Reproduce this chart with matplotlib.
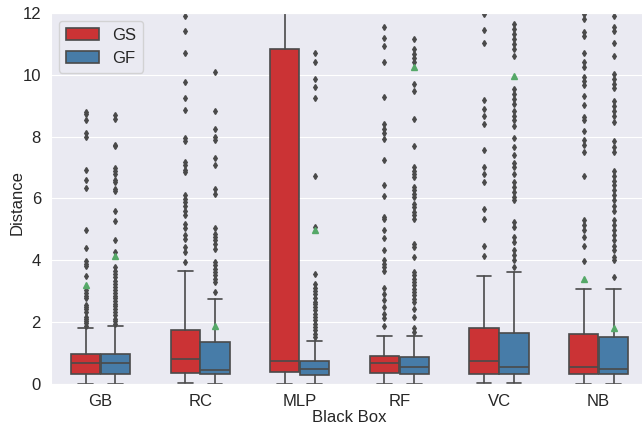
import matplotlib
matplotlib.use("Agg")
import matplotlib.pyplot as plt  # noqa: E402
import seaborn as sns  # noqa: E402
from matplotlib.patches import Patch  # noqa: E402

BOXES = ["GB", "RC", "MLP", "RF", "VC", "NB"]
HUES = ["GS", "GF"]

# GS 统计量 (读图估计, 超出 12 的部分不可见)
GS_LOW = [0.0, 0.05, 0.0, 0.0, 0.05, 0.02]
GS_Q1 = [0.32, 0.37, 0.40, 0.37, 0.34, 0.32]
GS_MED = [0.67, 0.82, 0.74, 0.67, 0.74, 0.56]
GS_Q3 = [0.96, 1.75, 10.83, 0.91, 1.82, 1.63]
GS_HIGH = [1.82, 3.65, 27.0, 1.57, 3.48, 3.09]
GS_MEAN = [3.22, 12.8, 25.0, 13.5, 14.0, 3.39]
GS_FLIERS = [
    [8.78, 8.72, 8.53, 8.10, 7.97, 6.91, 6.61, 6.34, 4.99, 4.41, 3.97, 3.89,
     3.82, 3.49, 3.03, 2.95, 2.86, 2.78, 2.57, 2.49, 2.42, 2.33, 2.18, 2.12,
     2.04, 1.97, 1.89],
    [11.90, 11.42, 10.70, 9.77, 9.23, 8.87, 7.96, 7.87, 7.17, 7.08, 6.93,
     6.87, 6.12, 5.99, 5.88, 5.77, 5.61, 5.45, 5.18, 5.04, 4.81, 4.70, 4.43,
     4.27, 3.95],
    [],
    [11.55, 11.18, 10.94, 10.40, 9.29, 8.39, 8.25, 8.11, 7.92, 7.25, 6.45,
     6.08, 5.40, 5.33, 4.97, 4.73, 4.35, 4.00, 3.89, 3.78, 3.66, 3.12, 2.92,
     2.71, 2.49, 2.28, 2.15, 1.88],
    [11.96, 11.45, 11.01, 9.18, 8.89, 8.68, 8.41, 7.55, 7.01, 6.80, 6.53,
     5.67, 5.34, 4.45, 4.13],
    [11.96, 11.80, 11.37, 11.26, 10.70, 10.40, 10.24, 9.91, 9.81, 9.65, 9.32,
     9.03, 8.62, 8.52, 8.19, 7.89, 7.74, 7.49, 6.71, 5.29, 5.13, 4.97, 4.75,
     4.45, 3.98],
]

# GF 统计量
GF_LOW = [0.0, 0.02, 0.0, 0.0, 0.05, 0.02]
GF_Q1 = [0.32, 0.32, 0.30, 0.32, 0.32, 0.32]
GF_MED = [0.68, 0.47, 0.48, 0.56, 0.54, 0.49]
GF_Q3 = [0.98, 1.35, 0.75, 0.88, 1.67, 1.51]
GF_HIGH = [1.88, 2.74, 1.40, 1.57, 3.61, 3.06]
GF_MEAN = [4.15, 1.87, 4.97, 10.26, 9.96, 1.80]
GF_FLIERS = [
    [8.70, 8.57, 7.74, 7.69, 6.97, 6.88, 6.80, 6.60, 6.53, 6.29, 6.24, 5.61,
     5.28, 4.67, 4.26, 3.78, 3.66, 3.57, 3.46, 3.35, 3.25, 3.14, 3.03, 2.95,
     2.86, 2.78, 2.69, 2.60, 2.52, 2.44, 2.33, 2.23, 2.12, 2.04, 1.96],
    [10.10, 8.81, 8.25, 7.98, 7.89, 7.30, 7.09, 6.31, 6.13, 5.05, 4.86, 4.75,
     4.65, 4.54, 4.38, 3.95, 3.84, 3.73, 3.62, 3.52, 3.41, 3.30, 2.98],
    [10.70, 10.40, 9.86, 9.59, 9.25, 6.71, 5.08, 3.55, 3.23, 3.12, 3.01, 2.90,
     2.80, 2.66, 2.58, 2.49, 2.39, 2.28, 2.17, 2.06, 1.96, 1.85, 1.74, 1.63,
     1.53],
    [11.15, 10.83, 10.67, 10.54, 10.40, 9.70, 9.46, 8.57, 7.71, 7.01, 6.90,
     6.80, 6.69, 6.37, 6.26, 6.15, 6.04, 5.83, 5.72, 5.56, 5.45, 5.34, 4.54,
     4.43, 4.11, 3.62, 3.52, 3.41, 3.30, 3.19, 3.09, 2.98, 2.87, 2.76, 2.66,
     2.44, 2.17, 1.80, 1.69],
    [11.63, 11.47, 11.31, 11.15, 10.99, 10.83, 10.61, 9.54, 9.38, 9.22, 9.05,
     8.84, 8.68, 8.52, 8.35, 7.96, 7.66, 7.39, 7.14, 7.01, 6.80, 6.53, 6.37,
     6.20, 6.04, 5.94, 5.24, 5.08, 4.75, 4.59, 4.32, 4.16, 4.00, 3.78],
    [11.90, 11.53, 11.42, 11.01, 10.61, 10.02, 9.86, 9.70, 9.57, 9.16, 9.00,
     8.84, 8.68, 8.46, 7.87, 7.66, 7.49, 6.90, 6.74, 6.58, 6.42, 6.26, 6.10,
     5.94, 5.77, 5.61, 5.29, 5.13, 4.97, 4.81, 4.65, 4.48, 4.32, 4.11, 4.00,
     3.46],
]

COLORS = ["#CB3335", "#477CA8"]
GRAY = "#4a4a4a"

sns.set_style("darkgrid")
plt.rcParams["font.family"] = ["Liberation Sans", "DejaVu Sans"]


def make_stats(low, q1, med, q3, high, mean, fliers):
    return [dict(whislo=a, q1=b, med=c, q3=d, whishi=e, mean=f, fliers=g)
            for a, b, c, d, e, f, g in zip(low, q1, med, q3, high, mean, fliers)]


series = [
    make_stats(GS_LOW, GS_Q1, GS_MED, GS_Q3, GS_HIGH, GS_MEAN, GS_FLIERS),
    make_stats(GF_LOW, GF_Q1, GF_MED, GF_Q3, GF_HIGH, GF_MEAN, GF_FLIERS),
]

fig = plt.figure(figsize=(6.42, 4.25), dpi=100)
ax = fig.add_axes([0.079, 0.096, 0.931, 0.874])

lw = 1.2
for k, stats in enumerate(series):
    pos = [i + (k - 0.5) * 0.3 for i in range(len(BOXES))]
    ax.bxp(stats, positions=pos, widths=0.294, patch_artist=True,
           showmeans=True, manage_ticks=False,
           boxprops=dict(facecolor=COLORS[k], edgecolor=GRAY, linewidth=lw),
           medianprops=dict(color=GRAY, linewidth=lw),
           whiskerprops=dict(color=GRAY, linewidth=lw),
           capprops=dict(color=GRAY, linewidth=lw),
           flierprops=dict(marker="d", markersize=3, markerfacecolor=GRAY,
                           markeredgecolor=GRAY, linestyle="none"),
           meanprops=dict(marker="^", markersize=4, markerfacecolor="#55A868",
                          markeredgecolor="#55A868"))

ax.set_xlim(-0.5, len(BOXES) - 0.5)
ax.set_ylim(0, 12)
ax.set_xticks(range(len(BOXES)))
ax.set_xticklabels(BOXES)
ax.set_yticks(range(0, 13, 2))
ax.tick_params(labelsize=12)
ax.xaxis.grid(False)
ax.set_xlabel("Black Box", fontsize=12, labelpad=1)
ax.set_ylabel("Distance", fontsize=12)
ax.yaxis.set_label_coords(-0.044, 0.49)

handles = [Patch(facecolor=c, edgecolor=GRAY, linewidth=lw, label=h)
           for c, h in zip(COLORS, HUES)]
ax.legend(handles=handles, loc="upper left", fontsize=12)

fig.savefig("out.png", dpi=100)
